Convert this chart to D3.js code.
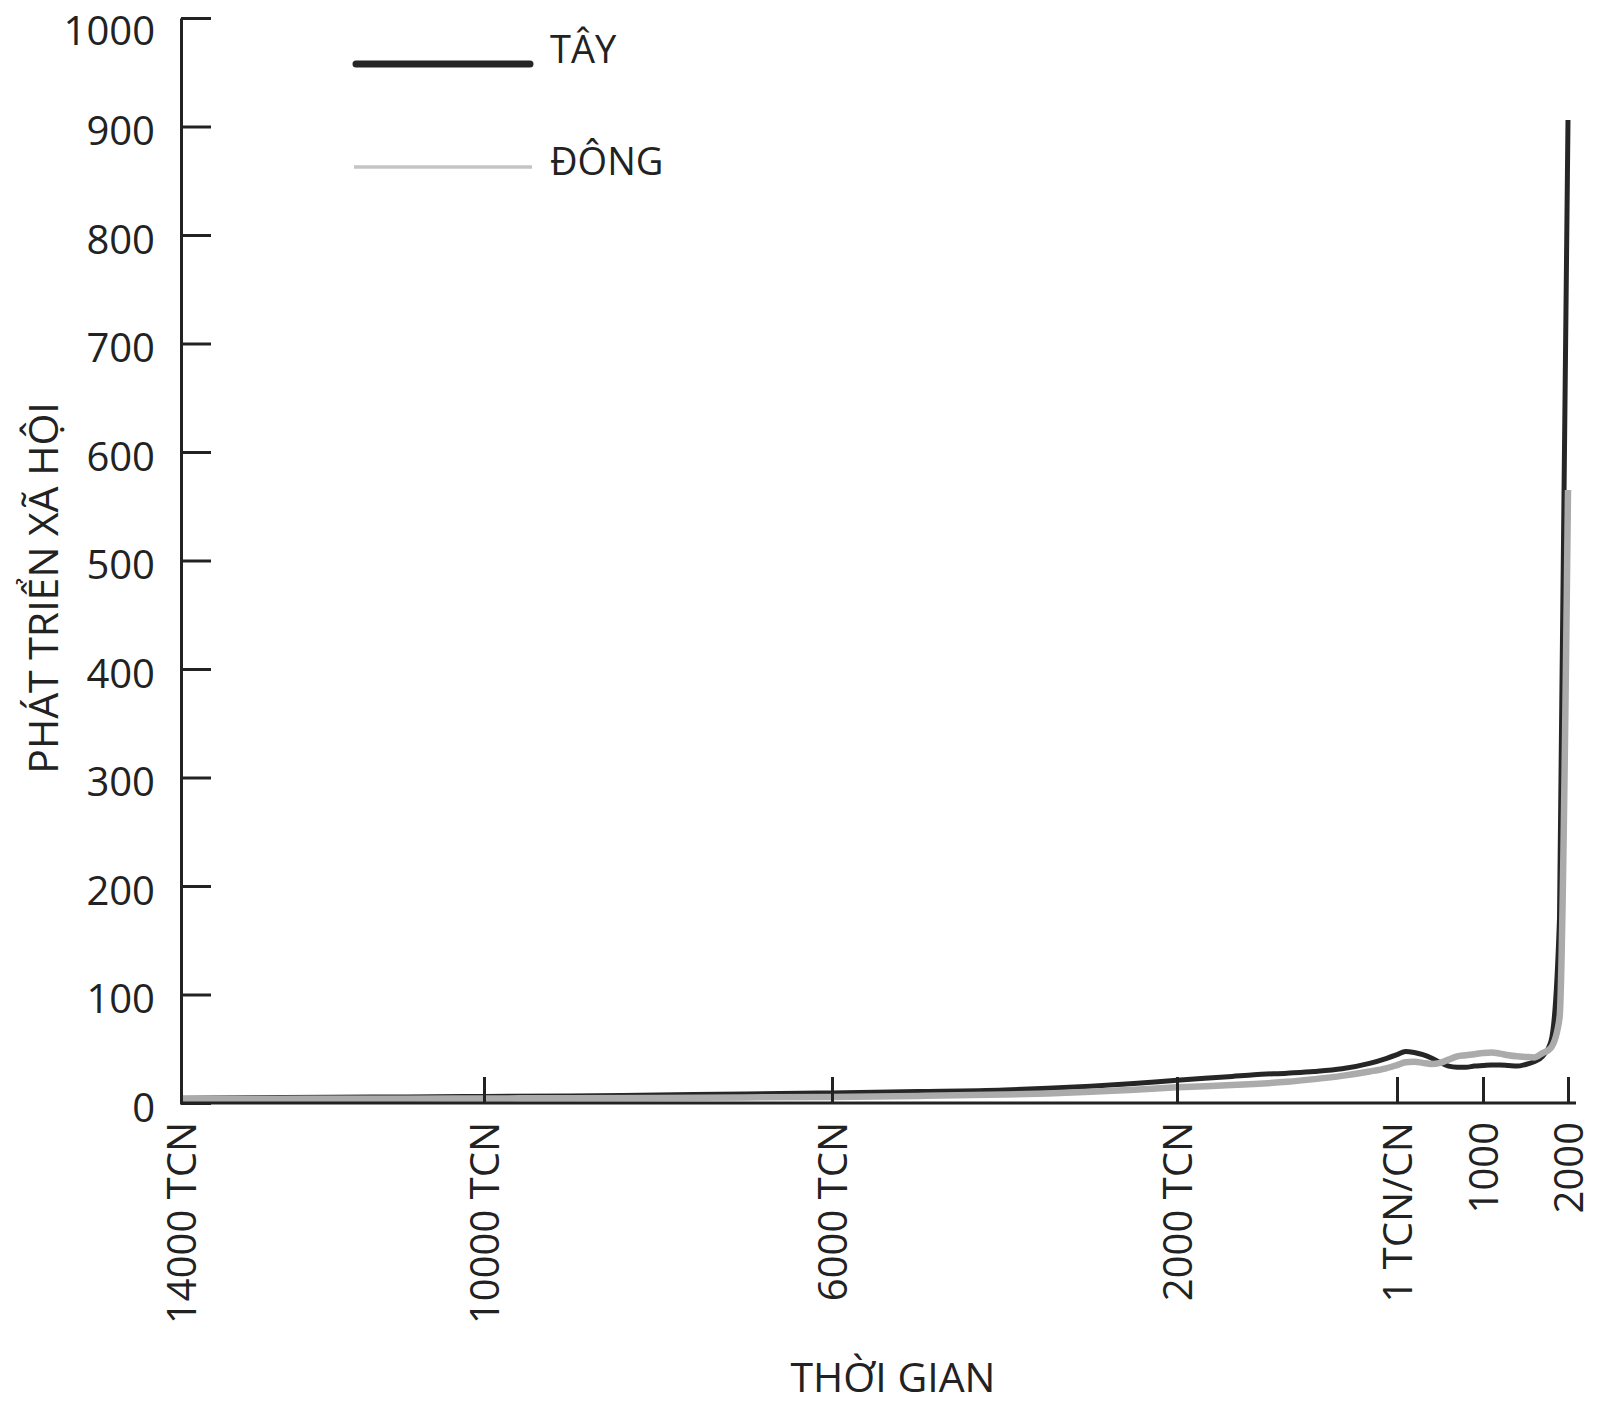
<!DOCTYPE html>
<html>
<head>
<meta charset="utf-8">
<script src="https://cdn.jsdelivr.net/npm/d3@7"></script>
<style>
  body { margin: 0; background: #fff; }
  text { font-family: "Open Sans", "Noto Sans", sans-serif; fill: #222; }
</style>
</head>
<body>
<svg id="chart" width="1600" height="1406"></svg>
<script>
// years (negative = TCN)
const years = [-14000, -13000, -12000, -11000, -10000, -9000, -8000, -7000, -6000, -5000,
  -4000, -3500, -3000, -2500, -2000, -1500, -1300, -1000, -750, -500, -250, -100, 1,
  100, 200, 300, 400, 500, 600, 700, 800, 900, 1000, 1100, 1200, 1300, 1400, 1500,
  1600, 1700, 1800, 1900, 2000];

// TÂY (west)
const westValues = [4.4, 4.9, 5.4, 5.6, 6.0, 6.5, 7.4, 8.2, 9.3, 10.5,
  12.0, 13.5, 15.5, 18.0, 21.0, 24.5, 26.0, 27.5, 29.0, 31.5, 36.5, 41.0, 44.5,
  47.5, 46.5, 44.5, 41.5, 37.5, 34.0, 33.0, 33.0, 34.0, 34.5, 35.0, 35.0, 34.5, 34.0, 35.5,
  38.0, 43.0, 57.0, 170.0, 906.0];

// ĐÔNG (east)
const eastValues = [3.8, 3.8, 3.9, 4.0, 4.2, 4.4, 4.7, 5.1, 5.6, 6.5,
  7.8, 8.8, 10.3, 12.3, 14.5, 16.5, 17.5, 19.5, 22.0, 25.0, 29.0, 32.0, 35.0,
  37.5, 38.0, 37.0, 36.0, 37.0, 40.0, 43.0, 44.0, 45.0, 46.0, 46.5, 45.5, 44.0, 43.0, 42.5,
  42.0, 46.0, 51.0, 78.0, 565.0];

const tickYears = [-14000, -10000, -6000, -2000, 0, 1000, 2000];
const tickLabels = ['14000 TCN', '10000 TCN', '6000 TCN', '2000 TCN', '1 TCN/CN', '1000', '2000'];
const yTicks = [0, 100, 200, 300, 400, 500, 600, 700, 800, 900, 1000];

const svg = d3.select('#chart');

// the time axis is not evenly spaced in the original, so piecewise scale
const x = d3.scaleLinear()
  .domain(tickYears)
  .range([181, 484, 832, 1177, 1397, 1483, 1568]);

const y = d3.scaleLinear()
  .domain([0, 1000])
  .range([1103, 18]);

const line = d3.line()
  .x(d => x(d[0]))
  .y(d => y(d[1]))
  .curve(d3.curveMonotoneX);

const west = years.map((yr, i) => [yr, westValues[i]]);
const east = years.map((yr, i) => [yr, eastValues[i]]);

svg.append('path')
  .datum(west)
  .attr('d', line)
  .style('fill', 'none')
  .style('stroke', '#262626')
  .style('stroke-width', 5)
  .style('stroke-linejoin', 'round');

svg.append('path')
  .datum(east)
  .attr('d', line)
  .style('fill', 'none')
  .style('stroke', '#ababab')
  .style('stroke-width', 6.5)
  .style('stroke-linejoin', 'round');

// y axis, ticks pointing inward
const yAxis = svg.append('g')
  .attr('transform', 'translate(181,0)')
  .call(d3.axisLeft(y).tickValues(yTicks).tickSizeInner(-30).tickSizeOuter(0)
    .tickPadding(26).tickFormat(d3.format('d')));

yAxis.selectAll('line, path').style('stroke', '#222').style('stroke-width', 3);
yAxis.selectAll('text')
  .attr('dy', d => d === 1000 ? '0.65em' : '0.45em')
  .style('font-size', '40px')
  .style('font-family', '"Open Sans", sans-serif')
  .attr('fill', '#222');

// x axis
const xAxis = svg.append('g')
  .attr('transform', 'translate(0,1103)')
  .call(d3.axisBottom(x).tickValues(tickYears).tickSizeInner(-26).tickSizeOuter(0)
    .tickFormat((d, i) => tickLabels[i]));

xAxis.select('.domain').remove();
xAxis.append('line')
  .attr('x1', 180)
  .attr('x2', 1576)
  .style('stroke', '#222')
  .style('stroke-width', 3);
xAxis.selectAll('.tick line').style('stroke', '#222').style('stroke-width', 3);
xAxis.selectAll('.tick').filter(d => d === -14000).select('line').remove();

xAxis.selectAll('text')
  .attr('transform', 'rotate(-90)')
  .attr('x', -19)
  .attr('y', 0)
  .attr('dy', '0.36em')
  .style('text-anchor', 'end')
  .style('font-size', '40px')
  .style('font-family', '"Open Sans", sans-serif')
  .attr('fill', '#222');

// axis titles
svg.append('text')
  .attr('x', 893)
  .attr('y', 1392)
  .style('text-anchor', 'middle')
  .style('font-size', '41px')
  .text('THỜI GIAN');

svg.append('text')
  .attr('transform', 'translate(58,588) rotate(-90)')
  .style('text-anchor', 'middle')
  .style('font-size', '41px')
  .text('PHÁT TRIỂN XÃ HỘI');

// legend
svg.append('line')
  .attr('x1', 356).attr('x2', 530)
  .attr('y1', 64).attr('y2', 64)
  .style('stroke', '#262626')
  .style('stroke-width', 7)
  .style('stroke-linecap', 'round');

svg.append('text')
  .attr('x', 550).attr('y', 63)
  .style('font-size', '38px')
  .text('TÂY');

svg.append('line')
  .attr('x1', 354).attr('x2', 532)
  .attr('y1', 167).attr('y2', 167)
  .style('stroke', '#c4c4c4')
  .style('stroke-width', 3.5);

svg.append('text')
  .attr('x', 550).attr('y', 175)
  .style('font-size', '38px')
  .text('ĐÔNG');
</script>
</body>
</html>
